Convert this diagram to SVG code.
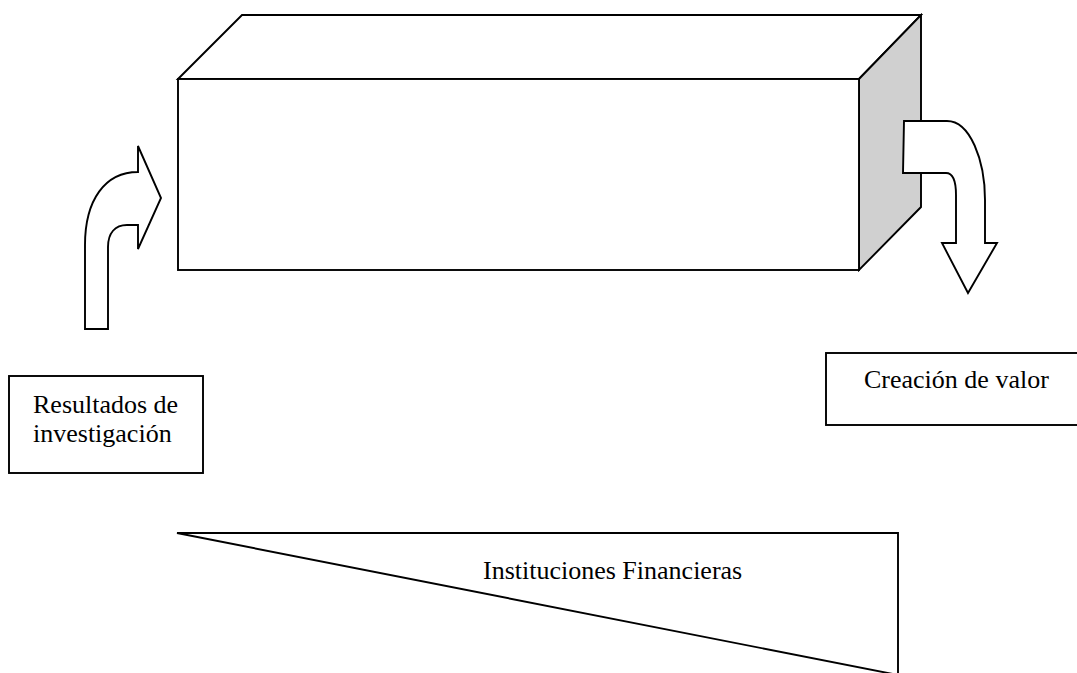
<svg xmlns="http://www.w3.org/2000/svg" width="1077" height="673" viewBox="0 0 1077 673">
  <style>
    .edge { fill: #ffffff; stroke: #000000; stroke-width: 1.9; stroke-linejoin: miter; }
    .side { fill: #d0d0d0; stroke: #000000; stroke-width: 1.9; }
    .lbl { font-family: "Liberation Serif", "Times New Roman", serif; font-size: 26px; fill: #000000; }
  </style>
  <rect x="0" y="0" width="1077" height="673" fill="#ffffff"/>

  <!-- Prism: top face, shaded right face, front face -->
  <g id="prism">
    <polygon class="edge" points="178,79 242,15 921,15 859,79"/>
    <polygon class="side" points="859,79 921,15 921,207 859,270"/>
    <rect class="edge" x="178" y="79" width="681" height="191"/>
  </g>

  <!-- Curved block arrows in and out of the prism -->
  <g id="connectors">
    <path id="arrow-in" class="edge" d="M85,329 L85,245 C85,200 105,172 138,172 L138,146 L161,198 L138,249 L138,225 L127,225 C115,225 108,233 108,247 L108,329 Z"/>
    <path id="arrow-out" class="edge" d="M904,121 L947,121 C970,121 985,160 985,200 L985,243 L997,243 L968,293 L942,243 L956,243 L956,195 C956,180 953,173 946,173 L903,173 Z"/>
  </g>

  <g id="resultados">
    <rect class="edge" x="9" y="376" width="194" height="97"/>
    <text class="lbl" x="33" y="413">Resultados de</text>
    <text class="lbl" x="33" y="442">investigación</text>
  </g>

  <g id="creacion">
    <rect class="edge" x="826" y="353" width="270" height="72"/>
    <text class="lbl" x="864" y="388">Creación de valor</text>
  </g>

  <g id="instituciones">
    <polygon class="edge" points="177,533 898,533 898,675"/>
    <text class="lbl" x="483" y="579">Instituciones Financieras</text>
  </g>
</svg>
